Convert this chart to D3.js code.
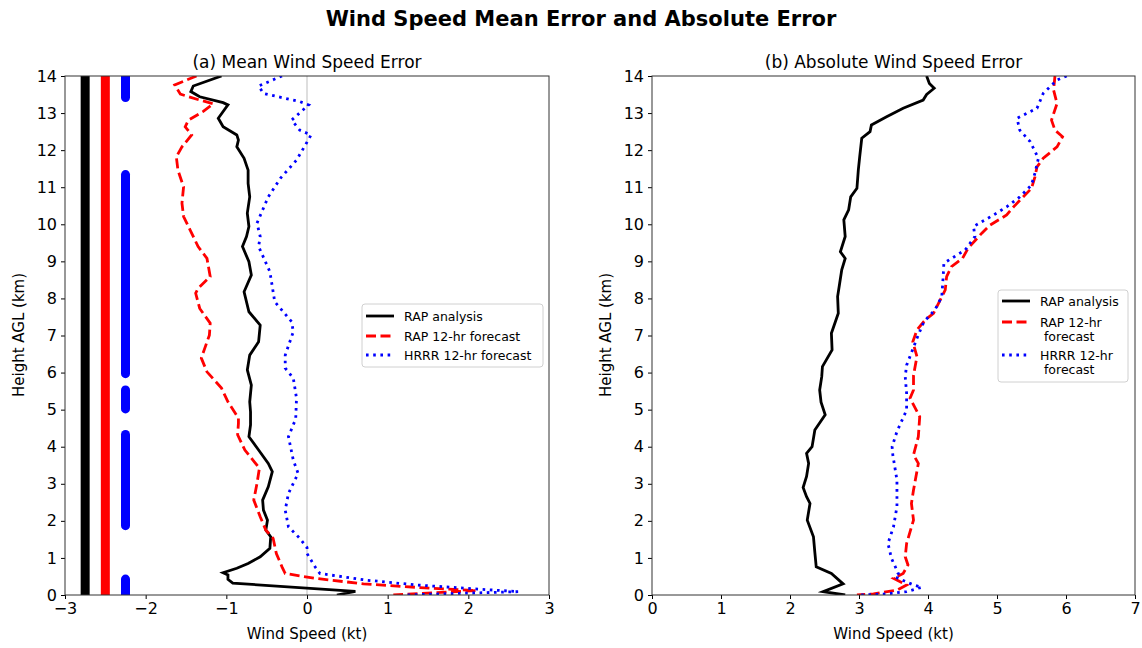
<!DOCTYPE html>
<html>
<head>
<meta charset="utf-8">
<script src="https://cdn.jsdelivr.net/npm/d3@7"></script>
<style>
  body { margin: 0; background: #fff; }
  text { font-family: "DejaVu Sans", sans-serif; fill: #000; }
</style>
</head>
<body>
<svg id="chart" width="1142" height="648"></svg>
<script>
// ---- data: [height km, wind speed error kt] ----
const meanRapAna = [
  [14.0,-1.06],[13.73,-1.41],[13.58,-1.44],[13.44,-1.33],[13.28,-1.04],[13.22,-0.98],[12.86,-1.10],
  [12.63,-1.04],[12.41,-0.87],[12.27,-0.85],[12.09,-0.87],[11.78,-0.78],[11.46,-0.73],[11.1,-0.73],
  [10.74,-0.71],[10.3,-0.74],[9.94,-0.72],[9.67,-0.75],[9.40,-0.80],[8.99,-0.72],[8.63,-0.69],
  [8.18,-0.78],[7.64,-0.72],[7.28,-0.58],[6.83,-0.60],[6.47,-0.71],[6.07,-0.74],[5.66,-0.69],
  [5.21,-0.71],[4.94,-0.70],[4.59,-0.70],[4.27,-0.72],[3.91,-0.60],[3.55,-0.48],[3.33,-0.43],
  [2.92,-0.48],[2.56,-0.55],[2.29,-0.54],[2.02,-0.49],[1.75,-0.51],[1.57,-0.45],[1.26,-0.46],
  [1.03,-0.58],[0.85,-0.73],[0.72,-0.87],[0.60,-1.04],[0.54,-0.98],[0.42,-0.98],[0.32,-0.92],
  [0.10,0.60],[0.0,0.37]
];
const meanRapFcst = [
  [14.0,-1.37],[13.76,-1.64],[13.51,-1.57],[13.35,-1.33],[13.25,-1.16],[13.04,-1.29],[12.81,-1.47],
  [12.63,-1.51],[12.41,-1.43],[12.09,-1.55],[11.82,-1.62],[11.46,-1.60],[11.01,-1.53],[10.57,-1.55],
  [10.21,-1.53],[9.85,-1.45],[9.40,-1.35],[9.08,-1.24],[8.59,-1.20],[8.27,-1.35],[8.14,-1.38],
  [7.73,-1.33],[7.33,-1.20],[7.01,-1.21],[6.39,-1.31],[6.02,-1.24],[5.58,-1.06],[5.21,-0.98],
  [4.77,-0.85],[4.63,-0.85],[4.32,-0.86],[3.91,-0.77],[3.42,-0.59],[3.01,-0.62],[2.56,-0.66],
  [2.11,-0.58],[1.75,-0.51],[1.53,-0.42],[1.12,-0.38],[0.76,-0.31],[0.58,-0.27],[0.45,0.10],
  [0.30,0.70],[0.20,1.40],[0.12,2.10],[0.0,1.07]
];
const meanHrrrFcst = [
  [14.0,-0.31],[13.73,-0.60],[13.53,-0.54],[13.31,-0.09],[13.22,0.02],[12.81,-0.19],[12.54,-0.09],
  [12.41,0.05],[12.14,-0.02],[11.73,-0.13],[11.24,-0.33],[10.74,-0.48],[10.03,-0.62],[9.67,-0.58],
  [9.40,-0.60],[8.72,-0.46],[7.91,-0.40],[7.37,-0.19],[7.10,-0.17],[6.47,-0.27],[6.12,-0.27],
  [5.85,-0.17],[5.31,-0.13],[4.75,-0.14],[4.27,-0.23],[3.64,-0.17],[3.28,-0.11],[2.74,-0.23],
  [2.29,-0.27],[1.84,-0.23],[1.53,-0.09],[1.28,0.0],[1.12,0.0],[0.76,0.10],[0.58,0.16],
  [0.40,0.74],[0.27,1.36],[0.18,1.98],[0.09,2.62],[0.0,1.20]
];

const absRapAna = [
  [14.0,3.98],[13.80,4.02],[13.67,4.09],[13.50,3.98],[13.35,3.93],[13.13,3.64],[12.90,3.40],
  [12.68,3.18],[12.50,3.16],[12.32,3.04],[11.82,3.01],[11.46,2.99],[10.97,2.97],[10.74,2.88],
  [10.39,2.85],[10.12,2.78],[9.67,2.80],[9.26,2.73],[9.08,2.80],[8.77,2.75],[8.41,2.72],
  [8.05,2.69],[7.60,2.70],[7.06,2.60],[6.61,2.61],[6.16,2.47],[5.89,2.46],[5.53,2.43],
  [5.20,2.45],[4.86,2.51],[4.45,2.36],[4.00,2.32],[3.82,2.24],[3.55,2.27],[3.20,2.24],
  [2.90,2.19],[2.65,2.24],[2.47,2.29],[2.02,2.25],[1.57,2.34],[1.15,2.36],[0.76,2.38],
  [0.58,2.60],[0.30,2.77],[0.09,2.48],[0.0,2.80]
];
const absRapFcst = [
  [14.0,5.84],[13.62,5.82],[13.26,5.87],[12.81,5.79],[12.54,5.84],[12.36,5.95],[12.09,5.87],
  [11.78,5.67],[11.55,5.58],[11.28,5.55],[10.97,5.50],[10.47,5.24],[10.25,5.14],[9.98,4.90],
  [9.76,4.78],[9.35,4.58],[9.08,4.50],[8.86,4.34],[8.59,4.27],[8.23,4.25],[7.60,4.08],
  [7.42,3.96],[7.15,3.84],[6.83,3.78],[6.43,3.84],[5.93,3.79],[5.53,3.79],[5.31,3.74],
  [4.81,3.88],[4.27,3.86],[3.78,3.79],[3.55,3.86],[2.83,3.79],[2.47,3.76],[2.02,3.79],
  [1.39,3.69],[1.03,3.67],[0.81,3.71],[0.58,3.64],[0.45,3.50],[0.27,3.69],[0.13,3.55],
  [0.03,3.21],[0.0,2.97]
];
const absHrrrFcst = [
  [14.0,6.01],[13.89,5.87],[13.53,5.67],[13.13,5.58],[12.86,5.29],[12.54,5.33],[12.23,5.48],
  [11.78,5.60],[11.38,5.55],[11.06,5.50],[10.74,5.33],[10.47,5.14],[10.25,4.95],[10.07,4.78],
  [9.94,4.66],[9.67,4.68],[9.31,4.54],[8.95,4.23],[8.59,4.22],[8.05,4.20],[7.69,4.10],
  [7.37,3.94],[6.97,3.85],[6.20,3.69],[5.89,3.67],[5.44,3.69],[4.99,3.69],[4.41,3.55],
  [4.00,3.48],[3.78,3.49],[3.10,3.55],[2.38,3.55],[1.84,3.50],[1.39,3.42],[0.99,3.47],
  [0.58,3.57],[0.49,3.52],[0.27,3.79],[0.21,3.91],[0.09,3.69],[0.03,3.40],[0.0,3.01]
];

// significance bands in panel (a): [x position, [[bottom km, top km], ...]]
const sigRapAna = [-2.75, [[0, 14]]];
const sigRapFcst = [-2.5, [[0, 14]]];
const sigHrrrFcst = [-2.25, [[0, 0.43], [1.87, 4.33], [5.02, 5.53], [5.97, 11.34], [13.42, 14]]];

const seriesNames = ["RAP analysis", "RAP 12-hr forecast", "HRRR 12-hr forecast"];
const heightTicks = d3.range(0, 15);
const meanTicks = [-3, -2, -1, 0, 1, 2, 3];
const absTicks = [0, 1, 2, 3, 4, 5, 6, 7];

const styles = [
  {color: "#000", dash: null},
  {color: "#ff0000", dash: "10,4.5"},
  {color: "#0000ff", dash: "2.6,4.6"}
];

const svg = d3.select("#chart");

svg.append("text")
  .attr("x", 581).attr("y", 26)
  .attr("text-anchor", "middle")
  .style("font-size", "21px").style("font-weight", "bold")
  .text("Wind Speed Mean Error and Absolute Error");

function fmt(d) { return d < 0 ? "\u2212" + Math.abs(d) : String(d); }

function drawPanel(p) {
  const x = d3.scaleLinear().domain(p.domain).range([p.left, p.right]);
  const y = d3.scaleLinear().domain([0, 14]).range([595, 76]);
  const g = svg.append("g");

  const clipId = "clip" + p.id;
  g.append("clipPath").attr("id", clipId)
    .append("rect").attr("x", p.left).attr("y", 76)
    .attr("width", p.right - p.left).attr("height", 519);

  const plot = g.append("g").attr("clip-path", `url(#${clipId})`);

  if (p.zeroLine) {
    plot.append("line")
      .attr("x1", x(0)).attr("x2", x(0)).attr("y1", 76).attr("y2", 595)
      .attr("stroke", "#c8c8c8").attr("stroke-width", 1.2);
  }

  if (p.sig) {
    p.sig.forEach((s, i) => {
      plot.selectAll(null).data(s[1]).enter().append("line")
        .attr("x1", x(s[0])).attr("x2", x(s[0]))
        .attr("y1", d => y(d[0])).attr("y2", d => y(d[1]))
        .attr("stroke", styles[i].color)
        .attr("stroke-width", 9)
        .attr("stroke-linecap", "round");
    });
  }

  const line = d3.line()
    .x(d => x(d[1]))
    .y(d => y(d[0]));

  p.series.forEach((s, i) => {
    plot.append("path")
      .datum(s)
      .attr("fill", "none")
      .attr("stroke", styles[i].color)
      .attr("stroke-width", 2.8)
      .attr("stroke-dasharray", styles[i].dash)
      .attr("d", line);
  });

  // axes
  g.append("g")
    .attr("transform", "translate(0,595)")
    .call(d3.axisBottom(x).tickValues(p.ticks).tickFormat(fmt).tickSize(4).tickPadding(4))
    .call(a => a.select(".domain").remove())
    .call(a => a.selectAll("text").style("font-size", "16px").style("font-family", "DejaVu Sans"));

  g.append("g")
    .attr("transform", `translate(${p.left},0)`)
    .call(d3.axisLeft(y).tickValues(heightTicks).tickFormat(fmt).tickSize(4).tickPadding(4))
    .call(a => a.select(".domain").remove())
    .call(a => a.selectAll("text").style("font-size", "16px").style("font-family", "DejaVu Sans"));

  g.append("rect")
    .attr("x", p.left).attr("y", 76)
    .attr("width", p.right - p.left).attr("height", 519)
    .attr("fill", "none").attr("stroke", "#333").attr("stroke-width", 1);

  g.append("text")
    .attr("x", (p.left + p.right) / 2).attr("y", 68)
    .attr("text-anchor", "middle").style("font-size", "17px")
    .text(p.title);

  g.append("text")
    .attr("x", (p.left + p.right) / 2).attr("y", 639)
    .attr("text-anchor", "middle").style("font-size", "15px")
    .text("Wind Speed (kt)");

  g.append("text")
    .attr("transform", `translate(${p.left - 41},335) rotate(-90)`)
    .attr("text-anchor", "middle").style("font-size", "15px")
    .text("Height AGL (km)");

  // legend
  const lg = g.append("g").attr("transform", `translate(${p.legend.x},${p.legend.y})`);
  lg.append("rect")
    .attr("width", p.legend.w).attr("height", p.legend.h)
    .attr("rx", 3).attr("fill", "#fff").attr("fill-opacity", 0.8)
    .attr("stroke", "#d0d0d0");
  p.legend.rows.forEach((r, i) => {
    lg.append("line")
      .attr("x1", 4).attr("x2", 32).attr("y1", r.y).attr("y2", r.y)
      .attr("stroke", styles[i].color).attr("stroke-width", 2.8)
      .attr("stroke-dasharray", styles[i].dash);
    const t = lg.append("text").attr("x", 42).attr("y", r.y + 4.5).style("font-size", "12.5px");
    r.lines.forEach((ln, k) => {
      t.append("tspan").attr("x", 42).attr("dy", k === 0 ? 0 : 14.5).text(ln);
    });
  });
}

drawPanel({
  id: "a", left: 65, right: 549, domain: [-3, 3], ticks: meanTicks,
  title: "(a) Mean Wind Speed Error", zeroLine: true,
  sig: [sigRapAna, sigRapFcst, sigHrrrFcst],
  series: [meanRapAna, meanRapFcst, meanHrrrFcst],
  legend: {x: 362, y: 304, w: 181, h: 63, rows: [
    {y: 12, lines: [seriesNames[0]]},
    {y: 32, lines: [seriesNames[1]]},
    {y: 51, lines: [seriesNames[2]]}
  ]}
});

drawPanel({
  id: "b", left: 652, right: 1135, domain: [0, 7], ticks: absTicks,
  title: "(b) Absolute Wind Speed Error", zeroLine: false,
  series: [absRapAna, absRapFcst, absHrrrFcst],
  legend: {x: 998, y: 290, w: 130, h: 92, rows: [
    {y: 11, lines: [seriesNames[0]]},
    {y: 32, lines: ["RAP 12-hr", " forecast"]},
    {y: 65, lines: ["HRRR 12-hr", " forecast"]}
  ]}
});
</script>
</body>
</html>
